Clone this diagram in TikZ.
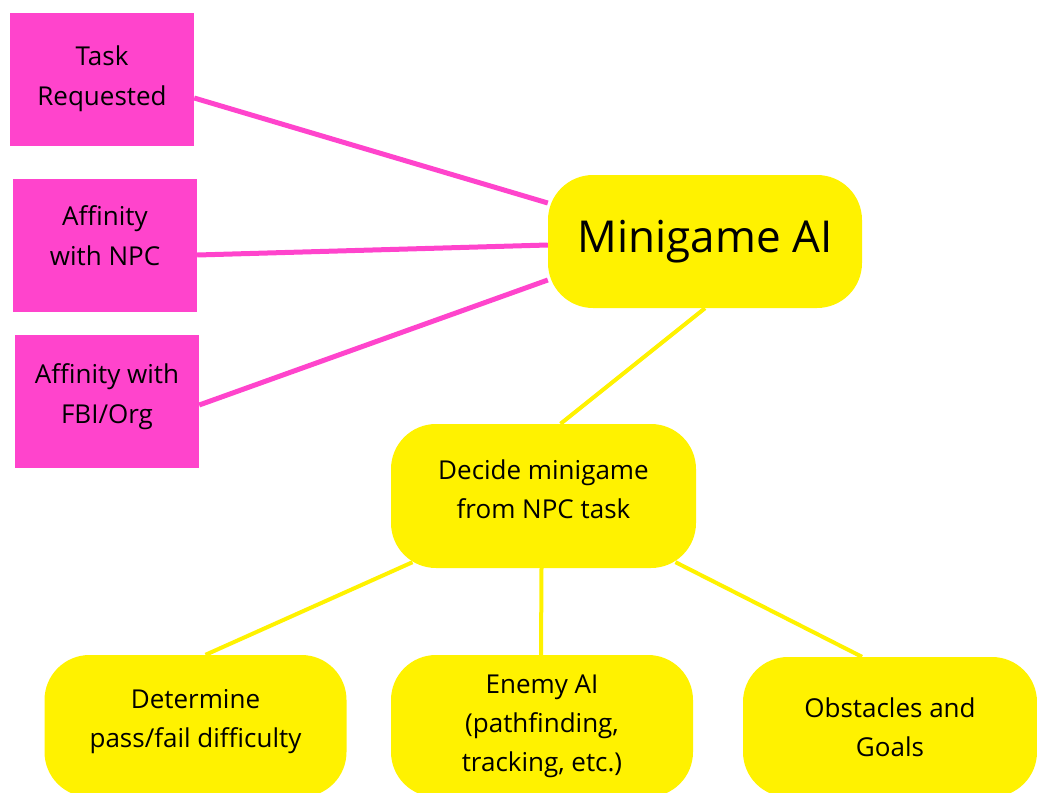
\documentclass[tikz,border=0pt]{standalone}
\usepackage{fontspec}
\setmainfont{Open Sans}
\usetikzlibrary{backgrounds}
\definecolor{factorpink}{HTML}{FF44CC}
\definecolor{stepyellow}{HTML}{FFF200}

\begin{document}
\begin{tikzpicture}[x = 1pt, y = -1pt,
    factor/.style = {fill = factorpink, minimum width = 184pt, minimum height = 133pt, inner sep = 0pt, align = center, font = \fontsize{26}{40}\selectfont},
    stepbox/.style = {fill = stepyellow, rounded corners = 45pt, minimum width = 302pt, minimum height = 142pt, inner sep = 0pt, align = center, font = \fontsize{26}{39}\selectfont},
    pinklink/.style = {draw = factorpink, line width = 5pt},
    yellowlink/.style = {draw = stepyellow, line width = 4pt}]
      \useasboundingbox (0,0) rectangle (1037,793);
      \clip (0,0) rectangle (1037,793);
      % inputs
      \node[factor] (task) at (102,79) {Task\\Requested};
      \node[factor, text depth = 18pt] (npc) at (105,245) {Affinity\\with NPC};
      \node[factor, text depth = 14pt] (org) at (107,401) {Affinity with\\FBI/Org};
      % minigame tree
      \node[stepbox, minimum width = 314pt, minimum height = 133pt, font = \fontsize{44}{50}\selectfont] (ai) at (705,241.5) {Minigame AI};
      \node[stepbox, minimum width = 305pt, minimum height = 144pt, text depth = 14pt] (decide) at (543.5,496) {Decide minigame\\from NPC task};
      \node[stepbox, text depth = 16pt] (pass) at (195.5,726) {Determine\\pass/fail difficulty};
      \node[stepbox] (enemy) at (542,726) {Enemy AI\\(pathfinding,\\tracking, etc.)};
      \node[stepbox, minimum width = 294pt, minimum height = 140pt] (goals) at (890,727) {Obstacles and\\Goals};
      \begin{pgfonlayer}{background}
        \draw[pinklink] ([yshift = -19pt]task.east) -- ([yshift = 38.5pt]ai.west);
        \draw[pinklink] ([yshift = -10pt]npc.east) -- ([yshift = -3.5pt]ai.west);
        \draw[pinklink] ([yshift = -4pt]org.east) -- ([yshift = -38.5pt]ai.west);
        \draw[yellowlink] (ai.south) -- ([xshift = 17pt]decide.north)
                          ([xshift = -131pt, yshift = 6pt]decide.south) -- ([xshift = 10pt]pass.north)
                          ([xshift = -2pt]decide.south) -- ([xshift = -1pt]enemy.north)
                          ([xshift = 132pt, yshift = 6pt]decide.south) -- ([xshift = -28pt]goals.north);
      \end{pgfonlayer}
    \end{tikzpicture}
\end{document}
